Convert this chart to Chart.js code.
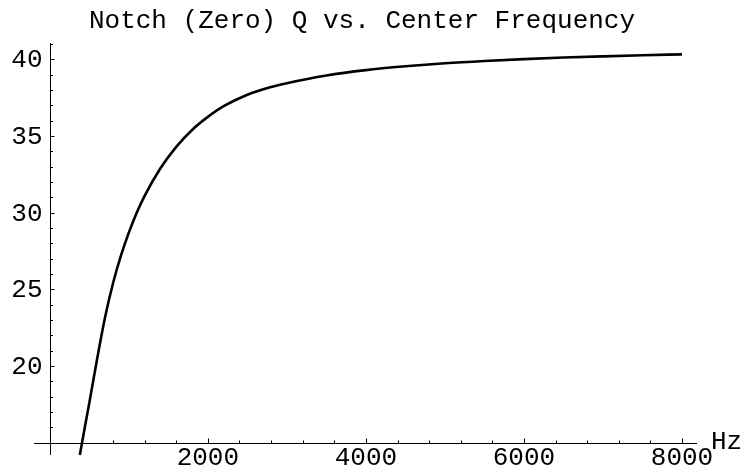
<!DOCTYPE html>
<html><head><meta charset="utf-8">
<script src="https://cdn.jsdelivr.net/npm/chart.js@4/dist/chart.umd.min.js"></script>
<style>html,body{margin:0;padding:0;background:#fff;}#wrap{width:744px;height:469px;position:relative;}</style>
</head><body><div id="wrap"><canvas id="c" width="744" height="469"></canvas></div>
<script>
const chartTitle = 'Notch (Zero) Q vs. Center Frequency';
const xAxisLabel = 'Hz';
const freqHz = [380, 450, 500, 600, 700, 800, 900, 1000, 1100, 1200, 1400, 1600, 1800, 2000, 2200, 2500, 2800, 3000, 3500, 4000, 4500, 5000, 5500, 6000, 6500, 7000, 7500, 8000];
const notchQ = [14.2, 16.2, 17.6, 20.5, 23.2, 25.4, 27.2, 28.7, 30.0, 31.1, 32.9, 34.3, 35.4, 36.25, 36.95, 37.7, 38.2, 38.45, 38.95, 39.3, 39.55, 39.75, 39.9, 40.02, 40.12, 40.2, 40.27, 40.33];
const xMajorTicks = [2000, 4000, 6000, 8000];
const xMinorTicks = [400, 800, 1200, 1600, 2400, 2800, 3200, 3600, 4400, 4800, 5200, 5600, 6400, 6800, 7200, 7600];
const yMajorTicks = [20, 25, 30, 35, 40];
const yMinorTicks = [16, 17, 18, 19, 21, 22, 23, 24, 26, 27, 28, 29, 31, 32, 33, 34, 36, 37, 38, 39, 41];
const xRange = [-200, 8190];
const yRange = [14.2, 41.07];
const axisCross = { x: 0, y: 15 };

const FONT = '26px "Liberation Mono", "DejaVu Sans Mono", monospace';

const axesPlugin = {
  id: 'mmaAxes',
  beforeDatasetsDraw(chart) {
    const ctx = chart.ctx, xs = chart.scales.x, ys = chart.scales.y, ca = chart.chartArea;
    const x0 = Math.round(xs.getPixelForValue(axisCross.x)) + 0.5;
    const y0 = Math.round(ys.getPixelForValue(axisCross.y)) + 0.5;
    ctx.save();
    ctx.strokeStyle = '#000';
    ctx.lineWidth = 1;
    ctx.beginPath();
    ctx.moveTo(ca.left, y0); ctx.lineTo(ca.right, y0);
    ctx.moveTo(x0, ca.top); ctx.lineTo(x0, ca.bottom);
    xMajorTicks.forEach(v => { const p = Math.round(xs.getPixelForValue(v)) + 0.5; ctx.moveTo(p, y0); ctx.lineTo(p, y0 - 5); });
    xMinorTicks.forEach(v => { const p = Math.round(xs.getPixelForValue(v)) + 0.5; ctx.moveTo(p, y0); ctx.lineTo(p, y0 - 3); });
    yMajorTicks.forEach(v => { const p = Math.round(ys.getPixelForValue(v)) + 0.5; ctx.moveTo(x0, p); ctx.lineTo(x0 + 4, p); });
    yMinorTicks.forEach(v => { const p = Math.round(ys.getPixelForValue(v)) + 0.5; ctx.moveTo(x0, p); ctx.lineTo(x0 + 2.5, p); });
    ctx.stroke();
    ctx.fillStyle = '#000';
    ctx.font = FONT;
    ctx.textAlign = 'center'; ctx.textBaseline = 'middle';
    xMajorTicks.forEach(v => ctx.fillText(String(v), xs.getPixelForValue(v), y0 + 15));
    ctx.textAlign = 'right';
    yMajorTicks.forEach(v => ctx.fillText(String(v), x0 - 8, ys.getPixelForValue(v) + 1));
    ctx.textAlign = 'left'; ctx.textBaseline = 'alphabetic';
    ctx.fillText(xAxisLabel, ca.right + 14, y0 + 5);
    ctx.textAlign = 'center'; ctx.textBaseline = 'middle';
    ctx.fillText(chartTitle, 362, 21);
    ctx.restore();
  }
};

new Chart(document.getElementById('c'), {
  type: 'scatter',
  data: {
    datasets: [{
      data: freqHz.map((f, i) => ({ x: f, y: notchQ[i] })),
      showLine: true,
      borderColor: '#000',
      borderWidth: 2.6,
      pointRadius: 0,
      cubicInterpolationMode: 'monotone',
      clip: false
    }]
  },
  options: {
    responsive: false,
    animation: false,
    layout: { padding: { left: 34, right: 47, top: 43, bottom: 14 } },
    plugins: { legend: { display: false }, tooltip: { enabled: false }, title: { display: false } },
    scales: {
      x: { type: 'linear', min: xRange[0], max: xRange[1], display: false },
      y: { type: 'linear', min: yRange[0], max: yRange[1], display: false }
    }
  },
  plugins: [axesPlugin]
});
</script></body></html>
